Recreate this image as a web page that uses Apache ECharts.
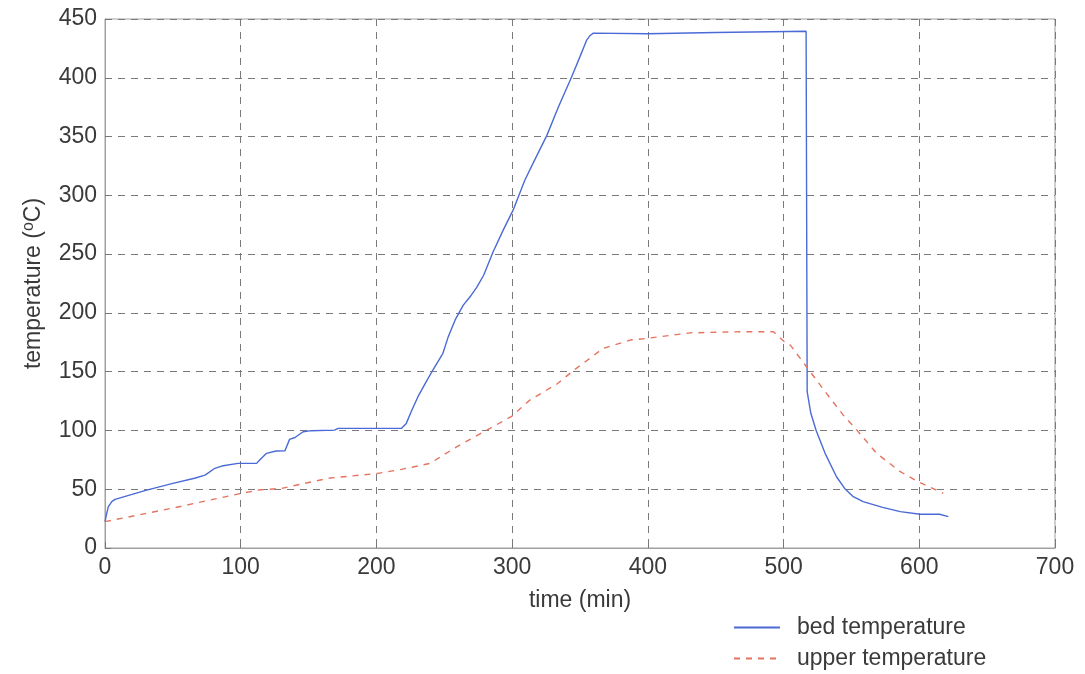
<!DOCTYPE html>
<html>
<head>
<meta charset="utf-8">
<script src="https://cdn.jsdelivr.net/npm/echarts@6/dist/echarts.min.js"></script>
<style>
  html, body { margin: 0; padding: 0; background: #ffffff; }
  #chart { width: 1085px; height: 674px; }
</style>
</head>
<body>
<div id="chart"></div>
<script>
// Bed temperature record (time in minutes, temperature in °C)
const bedTime = [0, 1, 2.4, 5, 7.4, 30, 50, 66, 73.7, 81, 86, 98, 111.7, 114, 119, 126, 132.6, 136, 140, 146, 152, 169, 172, 218.5, 222, 226, 230.6, 236, 241.6, 249, 253, 258, 264, 269, 274, 279, 286, 293.4, 300.7, 309.4, 317, 325.6, 334, 343.8, 350, 354.8, 357.5, 359.8, 400, 450, 516.6, 517.4, 520, 524, 530.6, 539, 545, 551, 558.6, 573, 586, 600.6, 615, 621.4];
const bedTemp = [22.4, 28, 35, 39.5, 41.4, 49, 55, 59.3, 62, 67.8, 69.7, 72, 72, 74.8, 80.5, 82.5, 82.7, 92.4, 94, 98.9, 99.8, 100.3, 101.8, 101.8, 106, 117, 128.7, 140, 151.4, 165.6, 180, 194, 206.6, 213.7, 222, 232, 252, 270.4, 287.4, 313, 331, 351, 375, 400.6, 418, 431.8, 436, 438, 437.5, 438.5, 439.6, 133, 115, 100, 80.5, 60.6, 50.7, 44, 39.4, 34.6, 30.9, 28.7, 28.7, 26.7];

// Upper temperature record
const upperTime = [0, 50, 100.7, 113, 130, 164.5, 201, 218.5, 239.5, 259, 283.7, 299.7, 313, 333, 345, 367, 387, 399, 431, 470, 492.5, 502, 505, 517, 531.6, 544, 554, 568.6, 586, 599, 617.7];
const upperTemp = [22.4, 34, 46.5, 49.3, 50.7, 59.3, 63.5, 66.9, 72, 86, 101.8, 112, 125.8, 139.5, 150.8, 169.8, 176.9, 178.3, 183, 184, 184, 174, 172.6, 154, 131.5, 113, 100.3, 80.5, 64.9, 56.4, 46.5];

const seriesNames = ['bed temperature', 'upper temperature'];
const xTicks = { min: 0, max: 700, interval: 100 };
const yTicks = { min: 0, max: 450, interval: 50 };

const pair = (xs, ys) => xs.map((x, i) => [x, ys[i]]);

const font = '"Liberation Sans", Arial, sans-serif';
const textColor = '#3a3a3a';
const gridLine = { show: true, lineStyle: { color: '#7a7a7a', type: [7, 6], width: 1 } };

const chart = echarts.init(document.getElementById('chart'), null, { renderer: 'canvas' });
chart.setOption({
  backgroundColor: '#ffffff',
  animation: false,
  grid: { left: 105, right: 30, top: 19, bottom: 126, show: true, borderColor: '#a0a0a0', borderWidth: 1, backgroundColor: 'transparent' },
  xAxis: {
    type: 'value', min: xTicks.min, max: xTicks.max, interval: xTicks.interval,
    name: 'time (min)', nameLocation: 'middle', nameGap: 41,
    nameTextStyle: { fontFamily: font, fontSize: 23, color: textColor },
    axisLine: { show: true, onZero: false, lineStyle: { color: '#a0a0a0' } },
    axisTick: { show: true, inside: true, length: 6, lineStyle: { color: '#777' } },
    axisLabel: { fontFamily: font, fontSize: 23, color: textColor, margin: 8 },
    splitLine: gridLine
  },
  yAxis: {
    type: 'value', min: yTicks.min, max: yTicks.max, interval: yTicks.interval,
    name: 'temperature ({sup|o}C)', nameLocation: 'middle', nameGap: 58,
    nameTextStyle: {
      fontFamily: font, fontSize: 23, color: textColor,
      rich: { sup: { fontFamily: font, fontSize: 16, color: textColor, verticalAlign: 'top', padding: [0, 0, 10, 0] } }
    },
    axisLine: { show: true, lineStyle: { color: '#a0a0a0' } },
    axisTick: { show: true, inside: true, length: 6, lineStyle: { color: '#777' } },
    axisLabel: { fontFamily: font, fontSize: 23, color: textColor, margin: 8 },
    splitLine: gridLine
  },
  legend: {
    orient: 'vertical', left: 733, top: 616, width: 320, height: 80, padding: 0,
    itemGap: 8, itemWidth: 46, itemHeight: 14,
    itemStyle: { opacity: 0 },
    textStyle: { fontFamily: font, fontSize: 23, lineHeight: 22, color: textColor, padding: [0, 0, 0, 12] },
    data: seriesNames
  },
  series: [
    {
      name: seriesNames[0], type: 'line', showSymbol: false, symbol: 'none',
      data: pair(bedTime, bedTemp),
      lineStyle: { color: '#4a6ad6', width: 1.4 },
      itemStyle: { color: '#4a6ad6' }
    },
    {
      name: seriesNames[1], type: 'line', showSymbol: false, symbol: 'none',
      data: pair(upperTime, upperTemp),
      lineStyle: { color: '#e5735f', width: 1.4, type: [6, 6] },
      itemStyle: { color: '#e5735f' }
    }
  ]
});
</script>
</body>
</html>
